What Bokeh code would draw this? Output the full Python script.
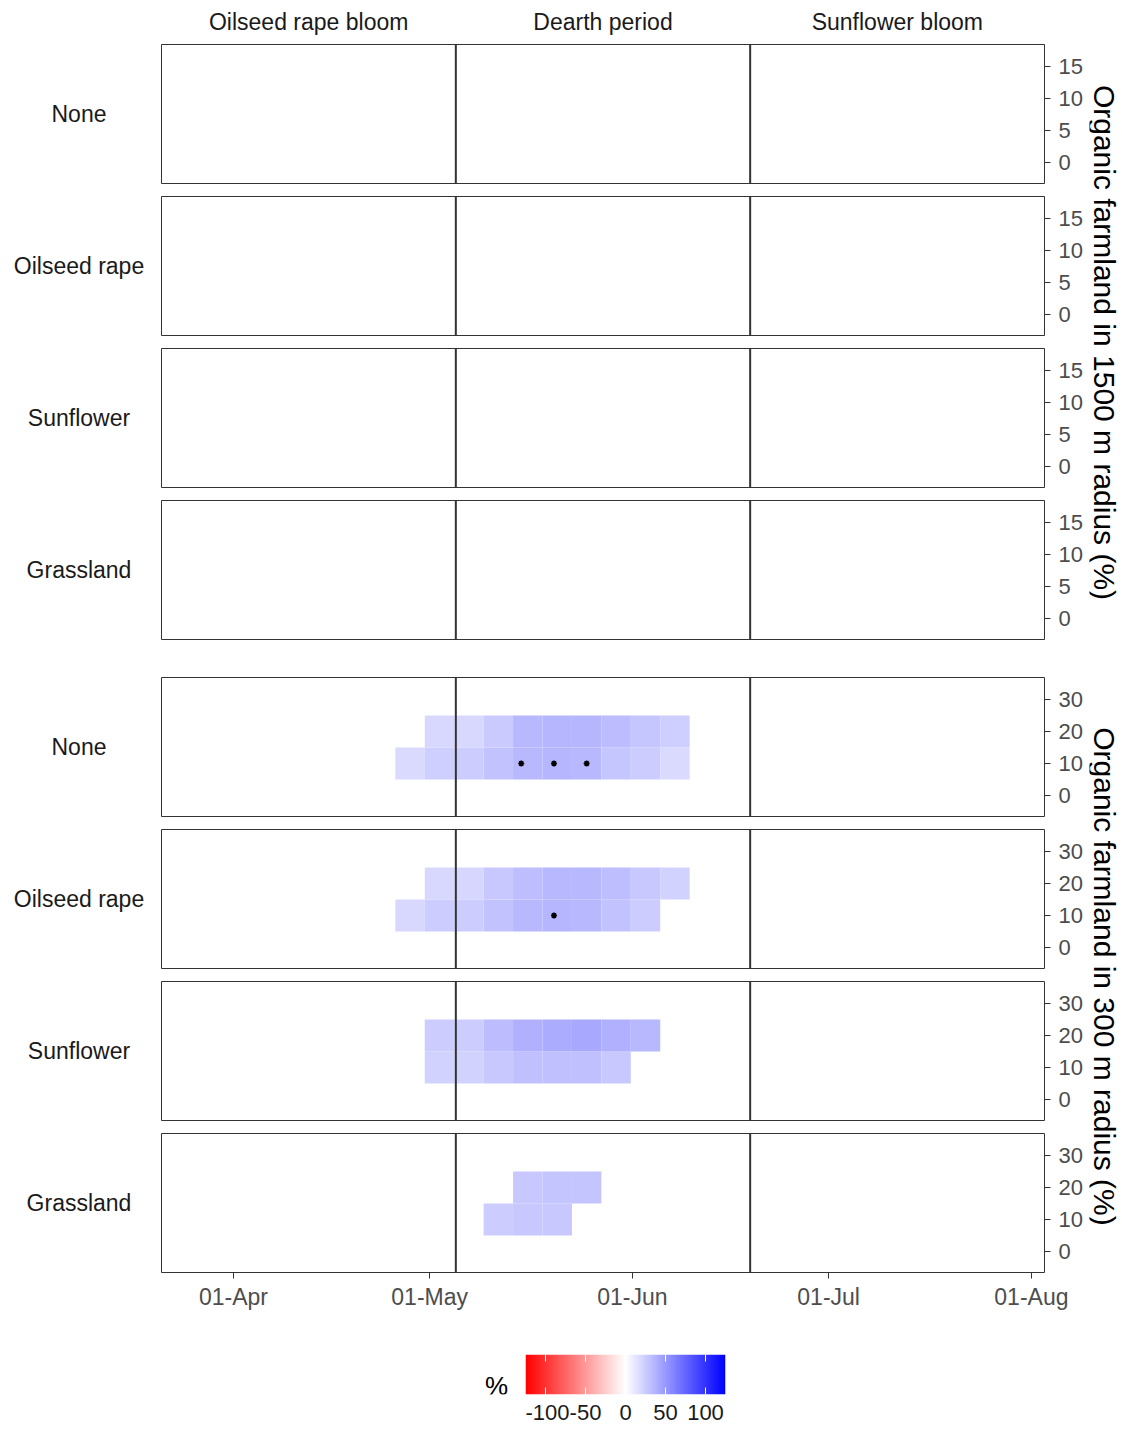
import numpy as np
from bokeh.plotting import figure
from bokeh.layouts import row, column, Spacer
from bokeh.models import Range1d, FixedTicker, Span, LinearColorMapper, ColumnDataSource
from bokeh.core.properties import value
from bokeh.embed import file_html
from bokeh.resources import INLINE

nan = float("nan")
FONT = "Liberation Sans"

# ---------------- data ----------------
phase_labels = ["Oilseed rape bloom", "Dearth period", "Sunflower bloom"]
season_start = -11          # days relative to 01-Apr
season_end = 124
phase_bounds = [34, 79]     # 05-May, 19-Jun

date_ticks = [0, 30, 61, 91, 122]
date_labels = ["01-Apr", "01-May", "01-Jun", "01-Jul", "01-Aug"]

landscapes = ["None", "Oilseed rape", "Sunflower", "Grassland"]
radius_titles = ["Organic farmland in 1500 m radius (%)", "Organic farmland in 300 m radius (%)"]
ticks_1500 = [0, 5, 10, 15]
ticks_300 = [0, 10, 20, 30]
yrange_1500 = (-3.3, 18.4)
yrange_300 = (-6.6, 36.9)

window_day = [27.0, 31.5, 36.0, 40.5, 45.0, 49.5, 54.0, 58.5, 63.0, 67.5]
farmland_bins = [10, 20]

# effect (%) per time window; 1500 m radius: no windows
r1500_none_lo, r1500_none_hi = [], []
r1500_rape_lo, r1500_rape_hi = [], []
r1500_sunf_lo, r1500_sunf_hi = [], []
r1500_grass_lo, r1500_grass_hi = [], []

# 300 m radius
r300_none_lo = [18, 24, 24.5, 29.5, 35, 36, 35, 28, 25, 18]
r300_none_hi = [nan, 19, 19, 26, 35, 36, 36, 33, 28, 23.5]
r300_rape_lo = [19, 25, 25, 29.5, 35, 36, 35, 29.5, 25, nan]
r300_rape_hi = [nan, 19, 20.5, 27, 32, 35, 35, 32, 27, 22]
r300_sunf_lo = [nan, 22, 22, 27, 31, 31, 31, 27, nan, nan]
r300_sunf_hi = [nan, 25, 25, 33, 38.5, 41, 42.5, 39, 35, nan]
r300_grass_lo = [nan, nan, nan, 24.5, 27, 27, nan, nan, nan, nan]
r300_grass_hi = [nan, nan, nan, nan, 27, 28.5, 28.5, nan, nan, nan]

# significance marks
sig_none_day, sig_none_bin = [44, 49, 54], [10, 10, 10]
sig_rape_day, sig_rape_bin = [49], [10]

cb_low, cb_high = -125, 125
cb_ticks = [-100, -50, 0, 50, 100]
cb_tick_labels = ["-100", "-50", "0", "50", "100"]
cb_title = "%"

# ---------------- colours ----------------
pal = []
for i in range(256):
    t = i / 255 * 2 - 1
    if t < 0:
        s = 1 + t
        r, g, b = 255, round(255 * s), round(255 * s)
    else:
        s = 1 - t
        r, g, b = round(255 * s), round(255 * s), 255
    pal.append("#%02x%02x%02x" % (r, g, b))
mapper = LinearColorMapper(palette=pal, low=cb_low, high=cb_high)

FRAME_W, FRAME_H = 883, 139
LEFT_W, RIGHT_B = 151, 45
TITLE_W = 32


def style_axis(ax, standoff, size="22px"):
    ax.axis_line_color = None
    ax.major_tick_line_color = "#333333"
    ax.major_tick_out = 6
    ax.major_tick_in = 0
    ax.minor_tick_line_color = None
    ax.major_label_text_font = FONT
    ax.major_label_text_font_size = size
    ax.major_label_text_color = "#4D4D4D"
    ax.major_label_standoff = standoff


def panel(lo_vals, hi_vals, sig_x, sig_y, yr, yticks, top_b, bot_b, show_x):
    p = figure(width=2 + FRAME_W + RIGHT_B, height=top_b + FRAME_H + bot_b,
               x_range=Range1d(season_start, season_end), y_range=Range1d(*yr),
               output_backend="svg", toolbar_location=None,
               y_axis_location="right", x_axis_location="below" if show_x else None,
               min_border_left=2, min_border_right=RIGHT_B,
               min_border_top=top_b, min_border_bottom=bot_b)
    xs, ys, vs = [], [], []
    for vals, yb in ((lo_vals, farmland_bins[0]), (hi_vals, farmland_bins[1])):
        for d, v in zip(window_day, vals):
            if v == v:
                xs.append(d); ys.append(yb); vs.append(v)
    src = ColumnDataSource(dict(x=xs, y=ys, v=vs))
    p.rect(x="x", y="y", width=4.5, height=10, source=src,
           fill_color={"field": "v", "transform": mapper}, line_color=None)
    if sig_x:
        p.scatter(sig_x, sig_y, marker="asterisk", size=6, line_color="black", line_width=1.6)
    for bnd in phase_bounds:
        p.add_layout(Span(location=bnd, dimension="height", line_color="#333333", line_width=2))
    p.xgrid.visible = False
    p.ygrid.visible = False
    p.outline_line_color = "#333333"
    p.outline_line_width = 1
    ya = p.yaxis[0]
    ya.ticker = FixedTicker(ticks=yticks)
    style_axis(ya, 8)
    if show_x:
        xa = p.xaxis[0]
        xa.ticker = FixedTicker(ticks=date_ticks)
        xa.major_label_overrides = {t: l for t, l in zip(date_ticks, date_labels)}
        style_axis(xa, 5, "23px")
    return p


def label_fig(text, top_b, bot_b):
    f = figure(width=LEFT_W, height=top_b + FRAME_H + bot_b,
               x_range=Range1d(0, LEFT_W), y_range=Range1d(0, 1),
               output_backend="svg", toolbar_location=None,
               x_axis_location=None, y_axis_location=None,
               min_border_left=0, min_border_right=0, min_border_top=top_b, min_border_bottom=bot_b)
    f.grid.visible = False
    f.outline_line_color = None
    f.text(x=[70.5], y=[0.5], text=[text], text_align="center", text_baseline="middle",
           text_font=value(FONT), text_font_size="23px", text_color="#1A1A1A")
    return f


def title_fig(text, h, ypos):
    f = figure(width=TITLE_W, height=h, x_range=Range1d(0, TITLE_W), y_range=Range1d(0, h),
               output_backend="svg", toolbar_location=None,
               x_axis_location=None, y_axis_location=None, min_border=0)
    f.grid.visible = False
    f.outline_line_color = None
    f.text(x=[14.5], y=[ypos], text=[text], angle=-np.pi / 2, text_align="center",
           text_baseline="middle", text_font=value(FONT), text_font_size="30px", text_color="black")
    return f


# strip
strip = figure(width=2 + FRAME_W, height=35, x_range=Range1d(season_start, season_end),
               y_range=Range1d(0, 35), output_backend="svg", toolbar_location=None,
               x_axis_location=None, y_axis_location=None,
               min_border_left=2, min_border_right=0, min_border_top=0, min_border_bottom=0)
strip.grid.visible = False
strip.outline_line_color = None
edges = [season_start] + phase_bounds + [season_end]
centers = [(edges[i] + edges[i + 1]) / 2 for i in range(3)]
strip.text(x=centers, y=[22] * 3, text=phase_labels, text_align="center", text_baseline="middle",
           text_font=value(FONT), text_font_size="23px", text_color="#1A1A1A")

groups = [
    (radius_titles[0], yrange_1500, ticks_1500,
     [(r1500_none_lo, r1500_none_hi, [], []),
      (r1500_rape_lo, r1500_rape_hi, [], []),
      (r1500_sunf_lo, r1500_sunf_hi, [], []),
      (r1500_grass_lo, r1500_grass_hi, [], [])],
     [12, 12, 12, 37], False, 334),
    (radius_titles[1], yrange_300, ticks_300,
     [(r300_none_lo, r300_none_hi, sig_none_day, sig_none_bin),
      (r300_rape_lo, r300_rape_hi, sig_rape_day, sig_rape_bin),
      (r300_sunf_lo, r300_sunf_hi, [], []),
      (r300_grass_lo, r300_grass_hi, [], [])],
     [12, 12, 12, 46], True, 342),
]

blocks = [Spacer(width=8, height=8), row(Spacer(width=LEFT_W, height=35), strip)]
for title, yr, yt, series, bots, last_x, ypos in groups:
    labs, pans = [], []
    total_h = 0
    for k, (lo, hi, sx, sy) in enumerate(series):
        show_x = last_x and k == 3
        labs.append(label_fig(landscapes[k], 1, bots[k]))
        pans.append(panel(lo, hi, sx, sy, yr, yt, 1, bots[k], show_x))
        total_h += 1 + FRAME_H + bots[k]
    blocks.append(row(column(*labs), column(*pans), title_fig(title, total_h, ypos)))

# colour bar
CB_TOP, CB_BAR, CB_BOT = 36, 40, 36
CB_H = CB_TOP + CB_BAR + CB_BOT
pct = figure(width=49, height=CB_H, x_range=Range1d(0, 49), y_range=Range1d(0, CB_H),
             output_backend="svg", toolbar_location=None,
             x_axis_location=None, y_axis_location=None, min_border=0)
pct.grid.visible = False
pct.outline_line_color = None
pct.text(x=[20], y=[CB_BOT - 12], text=[cb_title], text_align="center", text_baseline="middle",
         text_font=value(FONT), text_font_size="26px", text_color="black")

cb = figure(width=210, height=CB_H, x_range=Range1d(cb_low, cb_high), y_range=Range1d(0, 1),
            output_backend="svg", toolbar_location=None,
            x_axis_location="below", y_axis_location=None,
            min_border_left=0, min_border_right=10, min_border_top=CB_TOP, min_border_bottom=CB_BOT)
cb.grid.visible = False
cb.outline_line_color = None
grad = np.linspace(cb_low, cb_high, 501).reshape(1, -1)
cb.image(image=[grad], x=cb_low, y=0, dw=cb_high - cb_low, dh=1, color_mapper=mapper)
# white tick marks at the top edge of the bar
cb.segment(x0=cb_ticks, y0=[1 - 7 / 40] * len(cb_ticks), x1=cb_ticks, y1=[1] * len(cb_ticks),
           line_color="white", line_width=1)
xa = cb.xaxis[0]
xa.ticker = FixedTicker(ticks=cb_ticks)
xa.major_label_overrides = {t: l for t, l in zip(cb_ticks, cb_tick_labels)}
xa.axis_line_color = None
xa.major_tick_line_color = "white"
xa.major_tick_in = 7
xa.major_tick_out = 0
xa.minor_tick_line_color = None
xa.major_label_text_font = FONT
xa.major_label_text_font_size = "22px"
xa.major_label_text_color = "#1A1A1A"
xa.major_label_standoff = 10

blocks.append(row(Spacer(width=468, height=CB_H), pct, cb))
layout = row(Spacer(width=8, height=10), column(*blocks))

open("out.html", "w").write(file_html(layout, INLINE))
